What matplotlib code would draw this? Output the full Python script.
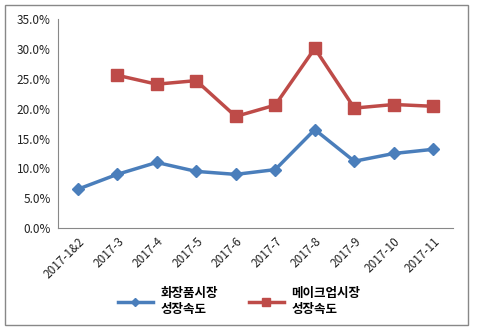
import matplotlib
matplotlib.use('Agg')
import matplotlib.pyplot as plt
from matplotlib.patches import Rectangle

plt.rcParams['font.family'] = ['Noto Sans CJK KR', 'DejaVu Sans']

months = ['2017-1&2', '2017-3', '2017-4', '2017-5', '2017-6',
          '2017-7', '2017-8', '2017-9', '2017-10', '2017-11']
cosmetics = [6.5, 9.0, 11.0, 9.5, 9.0, 9.8, 16.5, 11.2, 12.5, 13.2]
makeup = [None, 25.6, 24.1, 24.7, 18.7, 20.6, 30.1, 20.1, 20.7, 20.4]
yticks = [0, 5, 10, 15, 20, 25, 30, 35]

fig = plt.figure(figsize=(4.78, 3.35), dpi=100)
ax = fig.add_axes([0.121, 0.319, 0.827, 0.624])

x = list(range(len(months)))
ax.plot(x, cosmetics, color='#4a7ebb', lw=2.5, marker='D', ms=6,
        label='화장품시장\n성장속도')
mx = [i for i, v in enumerate(makeup) if v is not None]
my = [v for v in makeup if v is not None]
ax.plot(mx, my, color='#be4b48', lw=2.5, marker='s', ms=8,
        label='메이크업시장\n성장속도')

ax.set_xlim(-0.5, len(months) - 0.5)
ax.set_ylim(0, 35)
ax.set_yticks(yticks)
ax.set_yticklabels(['%.1f%%' % v for v in yticks], fontsize=8.5, color='#222222')
ax.set_xticks(x)
ax.set_xticklabels(months, rotation=45, ha='right', rotation_mode='anchor',
                   fontsize=8.5, color='#222222')
ax.tick_params(length=0, pad=5)
for s in ['top', 'right']:
    ax.spines[s].set_visible(False)
for s in ['left', 'bottom']:
    ax.spines[s].set_color('#888888')

leg = fig.legend(loc='center', bbox_to_anchor=(0.5, 0.1), ncol=2, frameon=False,
                 prop={'weight': 'bold', 'size': 9}, handlelength=2.8,
                 columnspacing=2.5, handletextpad=0.6, markerscale=0.7)

# outer frame around the whole chart
fig.patches.append(Rectangle((0.01, 0.03), 0.97, 0.955, transform=fig.transFigure,
                             fill=False, edgecolor='#888888', lw=1))

fig.savefig('out.png', dpi=100)
